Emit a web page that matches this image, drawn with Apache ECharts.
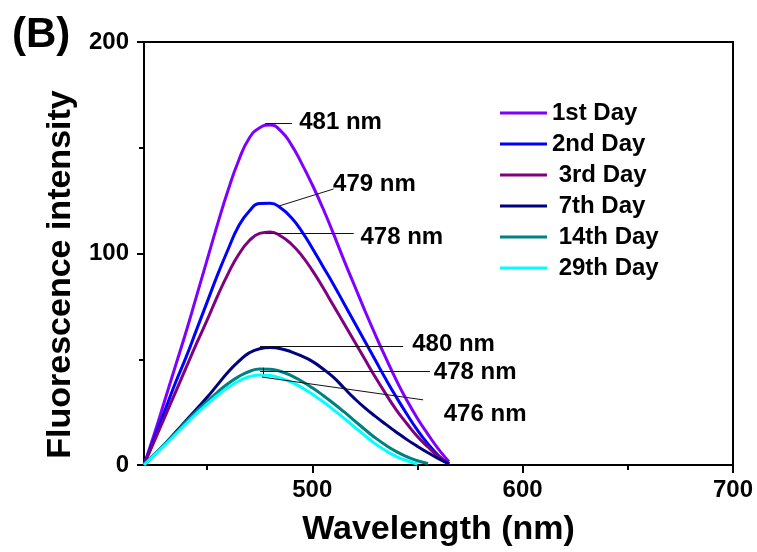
<!DOCTYPE html>
<html>
<head>
<meta charset="utf-8">
<script src="https://cdn.jsdelivr.net/npm/echarts@6/dist/echarts.min.js"></script>
<style>
html,body{margin:0;padding:0;background:#fff;}
#chart{width:757px;height:552px;}
</style>
</head>
<body>
<div id="chart"></div>
<script>
// wavelength grid (nm)
var wavelength = [420,425,430,435,440,445,450,455,460,465,470,475,480,485,490,495,500,505,510,515,520,525,530,535,540,545,550,555,560,565];

var day1  = [0,15,31,47,63,80,97,114,130,144,154.5,159.5,160.8,158,151.5,142.5,132.5,121.5,109.5,97,85,73,61.5,50.5,40,30.5,22,14.5,7.5,1.5];
var day2  = [0,13,26,39,51,64,77,90,102,113,120,123.6,123.8,121.5,117,110.5,102.5,94,85.5,76.5,67.5,58.5,49.5,40.5,32,24,16.5,10,4.5,0.5];
var day3  = [0,11.5,23,34.5,46,57.5,68.5,80,90.5,99.5,106,109.5,110.2,108.3,104.5,99,92,84,75.5,67,58.5,50,41.5,33.5,26,19.5,13.5,8.5,4,0.5];
var day7  = [0,5,10,15.5,21,26.5,32,38,44,49,53,55,55.5,55,53.5,51.5,49,45.5,41.5,36.5,31.5,27,23,19.2,15.5,12,8.8,5.8,3,0.5];
var day14 = [0,5,10,15,20.5,25.5,30,34.5,38.5,41.8,44.2,45.4,45.3,44.2,42.3,39.6,36.5,33,29.2,25.2,21,16.8,12.8,9.3,6.3,3.9,2,0.7,null,null];
var day29 = [0,4.8,9.5,14.5,19.5,24.3,28.8,33,36.7,39.7,41.7,42.6,42.3,41,39.2,36.6,33.5,30,26.2,22.2,18,13.9,10,6.7,4,2,0.5,null,null,null];

var seriesNames  = ['1st Day','2nd Day',' 3rd Day',' 7th Day',' 14th Day',' 29th Day'];
var seriesColors = ['#8000ff','#0000ff','#800080','#000080','#008080','#00ffff'];
var seriesValues = [day1, day2, day3, day7, day14, day29];

var xMajorTicks = [500,600,700];
var xMinorTicks = [450,550,650];

// peak annotation leader lines [x1, y1, x2, y2] and labels [text, x, y]
var peakLines = [
    [477.6,161.4,490.3,161.4],
    [484,122.4,510.1,130.5],
    [477.6,109.4,519.7,109.4],
    [475.2,56.3,543.2,56.3],
    [475.2,44.5,555.9,44.5],
    [476.8,43,476.8,46],
    [476,41.6,552.7,30.8]
];
var peakLabels = [
    ['481 nm',493.8,162.1],
    ['479 nm',509.9,132.9],
    ['478 nm',522.9,107.4],
    ['480 nm',547.5,56.9],
    ['478 nm',557.8,43.7],
    ['476 nm',562.5,24.1]
];

var fontFam = 'Liberation Sans, Arial, sans-serif';
var chart = echarts.init(document.getElementById('chart'));

var series = [];
for (var i = 0; i < seriesValues.length; i++) {
    var pts = [];
    for (var j = 0; j < wavelength.length; j++) {
        if (seriesValues[i][j] != null) pts.push([wavelength[j], seriesValues[i][j]]);
    }
    series.push({
        name: seriesNames[i],
        type: 'line',
        data: pts,
        smooth: 0.5,
        symbol: 'none',
        color: seriesColors[i],
        lineStyle: {width: 3, color: seriesColors[i]},
        z: 3
    });
}

series.push({
    type: 'lines',
    coordinateSystem: 'cartesian2d',
    silent: true,
    z: 4,
    lineStyle: {color: '#111', width: 1, opacity: 1},
    data: peakLines.map(function (l) { return {coords: [[l[0], l[1]], [l[2], l[3]]]}; })
});

series.push({
    type: 'scatter',
    silent: true,
    symbolSize: 0,
    z: 5,
    itemStyle: {opacity: 1},
    data: peakLabels.map(function (p) { return [p[1], p[2], p[0]]; }),
    label: {
        show: true,
        position: 'right',
        distance: 0,
        formatter: function (p) { return p.value[2]; },
        color: '#000',
        fontWeight: 'bold',
        fontSize: 24,
        fontFamily: fontFam
    }
});

option = {
    animation: false,
    backgroundColor: '#fff',
    title: {
        text: '(B)',
        left: 7,
        top: 9,
        textStyle: {fontSize: 42, fontWeight: 'bold', color: '#000', fontFamily: fontFam}
    },
    legend: {
        data: seriesNames,
        orient: 'vertical',
        left: 495,
        top: 96,
        itemWidth: 47,
        itemHeight: 24,
        itemGap: 7,
        icon: 'path://M0,0 L47,0 L47,3 L0,3 Z',
        textStyle: {fontSize: 24, fontWeight: 'bold', color: '#000', fontFamily: fontFam, lineHeight: 24}
    },
    grid: {
        left: 144,
        right: 24,
        top: 42,
        bottom: 84,
        show: true,
        borderColor: '#000',
        borderWidth: 2,
        backgroundColor: 'transparent'
    },
    xAxis: [
        {
            type: 'value',
            min: 420,
            max: 700,
            position: 'bottom',
            name: 'Wavelength (nm)',
            nameLocation: 'middle',
            nameGap: 48,
            nameTextStyle: {fontSize: 34, fontWeight: 'bold', color: '#000', fontFamily: fontFam},
            axisLine: {show: true, lineStyle: {color: '#000', width: 2}},
            axisTick: {show: true, inside: false, length: 8, lineStyle: {color: '#000', width: 2}, customValues: xMajorTicks},
            axisLabel: {customValues: xMajorTicks, margin: 13, fontSize: 24, fontWeight: 'bold', color: '#000', fontFamily: fontFam},
            splitLine: {show: false}
        },
        {
            type: 'value',
            min: 420,
            max: 700,
            position: 'bottom',
            axisLine: {show: false},
            axisTick: {show: true, inside: false, length: 5, lineStyle: {color: '#000', width: 2}, customValues: xMinorTicks},
            axisLabel: {show: false},
            splitLine: {show: false}
        }
    ],
    yAxis: {
        type: 'value',
        min: 0,
        max: 200,
        interval: 100,
        name: 'Fluorescence intensity',
        nameLocation: 'middle',
        nameGap: 64,
        nameTextStyle: {fontSize: 34, fontWeight: 'bold', color: '#000', fontFamily: fontFam, padding: [0, 42, 0, 0]},
        axisLine: {show: true, lineStyle: {color: '#000', width: 2}},
        axisTick: {show: true, inside: false, length: 7, lineStyle: {color: '#000', width: 2}},
        minorTick: {show: true, splitNumber: 2, length: 5, lineStyle: {color: '#000', width: 2}},
        axisLabel: {margin: 15, fontSize: 24, fontWeight: 'bold', color: '#000', fontFamily: fontFam},
        splitLine: {show: false},
        minorSplitLine: {show: false}
    },
    series: series
};

chart.setOption(option);
</script>
</body>
</html>
